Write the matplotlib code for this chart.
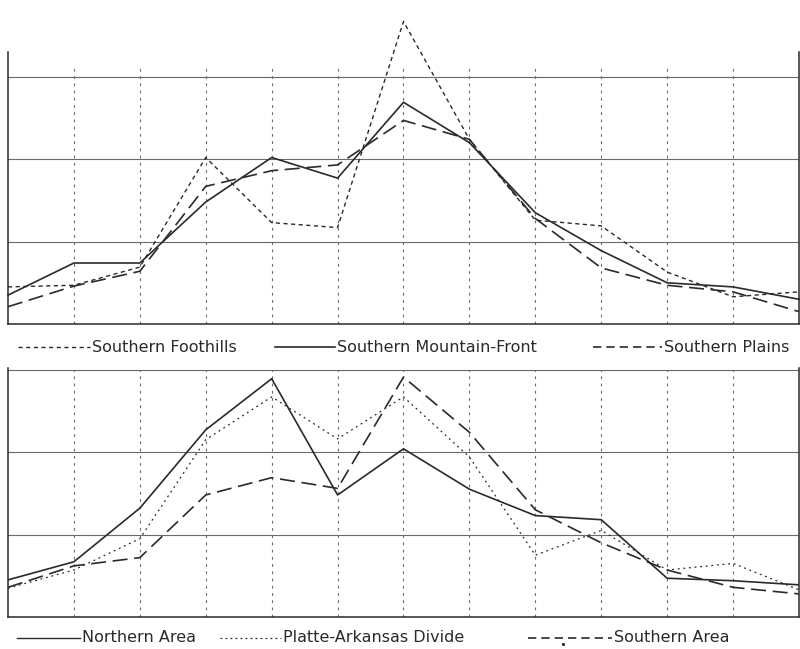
import numpy as np
import matplotlib
matplotlib.use('Agg')
import matplotlib.pyplot as plt

# 13 stations along the profile
stations = list(range(13))

# upper panel
southern_foothills = [0.45, 0.47, 0.69, 2.02, 1.23, 1.17, 3.67, 2.24, 1.26, 1.19, 0.63, 0.33, 0.39]
southern_mountain_front = [0.35, 0.74, 0.74, 1.48, 2.02, 1.77, 2.69, 2.20, 1.35, 0.89, 0.50, 0.45, 0.30]
southern_plains = [0.21, 0.46, 0.64, 1.67, 1.86, 1.93, 2.47, 2.24, 1.28, 0.68, 0.47, 0.39, 0.15]

# lower panel
northern_area = [0.45, 0.67, 1.32, 2.27, 2.89, 1.48, 2.04, 1.55, 1.23, 1.18, 0.47, 0.44, 0.39]
platte_arkansas = [0.35, 0.57, 0.95, 2.15, 2.67, 2.16, 2.67, 1.94, 0.75, 1.05, 0.57, 0.65, 0.33]
southern_area = [0.36, 0.62, 0.72, 1.48, 1.69, 1.56, 2.91, 2.24, 1.30, 0.90, 0.57, 0.36, 0.28]

top_labels = ['Southern Foothills', 'Southern Mountain-Front', 'Southern Plains']
bottom_labels = ['Northern Area', 'Platte-Arkansas Divide', 'Southern Area']

ink = '#2a2a2a'
grid_c = '#6a6a6a'
W, H = 800, 649
fig = plt.figure(figsize=(W / 100, H / 100), dpi=100)
fig.patch.set_facecolor('white')

def px_axes(x0, x1, ybot, ytop):
    return fig.add_axes([x0 / W, 1 - ybot / H, (x1 - x0) / W, (ybot - ytop) / H])

def frame(ax, ymax, vtop):
    ax.set_xlim(0, 12)
    ax.set_ylim(0, ymax)
    ax.set_xticks([]); ax.set_yticks([])
    ax.spines['top'].set_visible(False)
    for s in ['left', 'right', 'bottom']:
        ax.spines[s].set_color(ink)
        ax.spines[s].set_linewidth(1.1)
    for yv in [1, 2, 3]:
        ax.axhline(yv, color=grid_c, lw=0.8, zorder=1)
    for xv in stations[1:-1]:
        ax.plot([xv, xv], [0, vtop], color=grid_c, lw=0.8,
                ls=(0, (2.5, 4)), zorder=1)

# upper panel
ax1 = px_axes(8, 799, 324, 52)
frame(ax1, 3.3, 3.15)
ax1.plot(stations, southern_foothills, color=ink, lw=1.0, ls=(0, (3, 2.5)), clip_on=False, zorder=3)
ax1.plot(stations, southern_mountain_front, color=ink, lw=1.2, ls='-', clip_on=False, zorder=3)
ax1.plot(stations, southern_plains, color=ink, lw=1.2, ls=(0, (9, 4)), clip_on=False, zorder=3)

# lower panel
ax2 = px_axes(8, 799, 617, 368)
frame(ax2, 3.02, 3.0)
ax2.plot(stations, northern_area, color=ink, lw=1.2, ls='-', zorder=3)
ax2.plot(stations, platte_arkansas, color=ink, lw=0.9, ls=(0, (1.5, 3)), zorder=3)
ax2.plot(stations, southern_area, color=ink, lw=1.2, ls=(0, (9, 4)), zorder=3)

# hand-drawn style legends below each panel
def legend_item(x0, x1, y, style, lw, text):
    fig.add_artist(plt.Line2D([x0 / W, x1 / W], [1 - y / H, 1 - y / H],
                              color=ink, lw=lw, ls=style))
    fig.text(x1 / W + 0.002, 1 - y / H, text, fontsize=11.5, color=ink,
             va='center', ha='left', family='DejaVu Sans')

legend_item(18, 90, 347, (0, (3, 2.5)), 1.0, top_labels[0])
legend_item(275, 335, 347, '-', 1.2, top_labels[1])
legend_item(593, 662, 347, (0, (5, 3)), 1.2, top_labels[2])

legend_item(17, 80, 638, '-', 1.0, bottom_labels[0])
legend_item(220, 281, 638, (0, (1.5, 2.5)), 0.9, bottom_labels[1])
legend_item(528, 612, 638, (0, (5, 3)), 1.2, bottom_labels[2])
# small dot under the southern-area key, as in the original print
fig.add_artist(plt.Line2D([563 / W], [1 - 644 / H], marker='.', ms=2.5,
                          color=ink, ls='none'))

fig.savefig('out.png', dpi=100, facecolor='white')
